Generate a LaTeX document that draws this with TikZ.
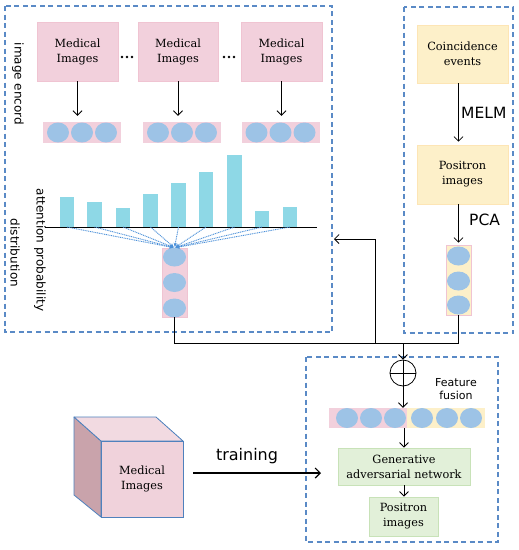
\documentclass[tikz,border=0pt]{standalone}
\usepackage{fontspec}
\setmainfont{DejaVu Serif}
\newfontfamily\labfont{DejaVu Sans}
\usetikzlibrary{arrows.meta}
\definecolor{pinkc}{HTML}{F2D0DC}
\definecolor{pinkb}{HTML}{F0C4D2}
\definecolor{yelc}{HTML}{FDF0C9}
\definecolor{grnc}{HTML}{E2F0D9}
\definecolor{grnb}{HTML}{C8E2B8}
\definecolor{circc}{HTML}{9DC3E6}
\definecolor{barc}{HTML}{8ED8E6}
\definecolor{dashc}{HTML}{5A8AC6}
\definecolor{dotc}{HTML}{4A90D9}
\definecolor{cubefront}{HTML}{F0D2DB}
\definecolor{cubetop}{HTML}{F2DAE1}
\definecolor{cubeleft}{HTML}{C9A3AB}
\definecolor{cubeline}{HTML}{4F81BD}
\begin{document}
\begin{tikzpicture}[x=1pt,y=-1pt,
  boxtext/.style={align=center, inner sep=0pt, font=\fontsize{11.3}{15}\selectfont, text=black},
  pbox/.style={boxtext, fill=pinkc, draw=pinkb, line width=0.6pt},
  ybox/.style={boxtext, fill=yelc, draw=yelc!90!orange, line width=0.6pt},
  gbox/.style={boxtext, fill=grnc, draw=grnb, line width=0.8pt},
  prow/.style={fill=pinkc, draw=none, inner sep=0pt},
  yrow/.style={fill=yelc, draw=none, inner sep=0pt},
  grp/.style={draw=dashc, line width=1.1pt, dash pattern=on 5pt off 3.5pt},
  arr/.style={-{Straight Barb[length=4.5pt,width=9pt]}, line width=0.8pt},
  conn/.style={line width=0.8pt},
  bar/.style={fill=barc, draw=none, inner sep=0pt, minimum width=14.5pt, anchor=south},
  dotarr/.style={dotc, dash pattern=on 1pt off 0.8pt, line width=0.9pt, -{Stealth[length=4pt,width=3.5pt]}},
  lab/.style={font=\labfont\fontsize{15.5}{18}\selectfont, inner sep=0pt},
  rlab/.style={font=\labfont\fontsize{12}{14}\selectfont, inner sep=0pt, rotate=-90}
]
\fill[white] (0,0) rectangle (519,550);
\useasboundingbox (0,0) rectangle (519,550);

% group frames
\draw[grp] (5,6) rectangle (332,332);
\draw[grp] (404,7) rectangle (513,333);
\draw[grp] (306,357) rectangle (498,542);

% medical image boxes
\node[pbox, minimum width=81pt, minimum height=59pt] (m1) at (77.5,51.5) {Medical\\Images};
\node[pbox, minimum width=80pt, minimum height=59pt] (m2) at (178,51.5) {Medical\\Images};
\node[pbox, minimum width=81pt, minimum height=59pt] (m3) at (281.5,51.5) {Medical\\Images};
\foreach \x in {122,127,132,224,229,234} \fill (\x,57) circle (1.3);

% encoded rows
\node[prow, minimum width=78pt, minimum height=21pt] (e1) at (82,132.5) {};
\node[prow, minimum width=78pt, minimum height=21pt] (e2) at (182,132.5) {};
\node[prow, minimum width=78pt, minimum height=21pt] (e3) at (280.5,132.5) {};
\foreach \c in {e1,e2,e3}
  \foreach \d in {-24,0,24}
    \fill[circc] ([xshift=\d pt]\c.center) ellipse [x radius=11, y radius=10];
\draw[arr, shorten >=6pt] (m1.south) -- (m1.south |- e1.north);
\draw[arr, shorten >=6pt] (m2.south) -- (m2.south |- e2.north);
\draw[arr, shorten >=6pt] (m3.south) -- (m3.south |- e3.north);

% rotated labels
\node[rlab] (t1) at (18,84) {image encord};
\node[rlab] (t2) at (40,250) {attention probability};
\node[rlab] (t3) at (15,253) {distribution};

% attention bars
\node[bar, minimum height=30pt] (b1) at (67,227) {};
\node[bar, minimum height=25pt] (b2) at (94.5,227) {};
\node[bar, minimum height=19pt] (b3) at (123,227) {};
\node[bar, minimum height=33pt] (b4) at (150.5,227) {};
\node[bar, minimum height=44pt] (b5) at (178.5,227) {};
\node[bar, minimum height=55pt] (b6) at (206,227) {};
\node[bar, minimum height=72pt] (b7) at (234.5,227) {};
\node[bar, minimum height=16pt] (b8) at (262,227) {};
\node[bar, minimum height=20pt] (b9) at (290,227) {};
\draw[line width=0.9pt] (45,227) -- (317,227);

% attention column
\node[prow, draw=pinkb, line width=0.4pt, minimum width=25pt, minimum height=69pt] (cl) at (174.5,282.5) {};
\foreach \d in {-25.5,0,25.5}
  \fill[circc] ([yshift=\d pt]cl.center) ellipse [x radius=11.5, y radius=9.5];
\foreach \i in {1,...,9}
  \draw[dotarr, shorten >=1pt] (b\i.south) -- (cl.north);

% right group
\node[ybox, minimum width=91pt, minimum height=58pt] (ce) at (462.5,54) {Coincidence\\events};
\node[ybox, minimum width=91pt, minimum height=59pt] (pi) at (462.5,174.5) {Positron\\images};
\node[yrow, draw=pinkb, line width=0.6pt, minimum width=25pt, minimum height=70pt] (cr) at (458.5,280) {};
\foreach \d in {-24,1,25}
  \fill[circc] ([yshift=-\d pt]cr.center) ellipse [x radius=11.5, y radius=9.5];
\draw[arr, shorten >=3pt] (ce.south -| cr.north) -- (pi.north -| cr.north);
\draw[arr, shorten >=2pt] (pi.south -| cr.north) -- (cr.north);
\node[lab, anchor=west] (melm) at (461,113) {MELM};
\node[lab, anchor=west] (pca) at (469,220) {PCA};

% junction
\coordinate (j) at (403,343);
\coordinate (fb) at (375,343);
\coordinate (fbend) at (334,239);
\node[circle, draw, line width=0.8pt, minimum size=26pt, inner sep=0pt] (op) at (403,373) {};
\draw[conn] (op.north) -- (op.south) (op.west) -- (op.east);
\draw[conn] (cl.south) |- (j);
\draw[conn] (cr.south) |- (j);
\draw[arr] (fb) |- (fbend);
\draw[arr] (j) -- (op.north);

% fusion
\node[align=center, inner sep=0pt, font=\labfont\fontsize{11}{12.5}\selectfont] (ff) at (456,389) {Feature\\fusion};
\node[prow, anchor=west, minimum width=78pt, minimum height=20pt] (fp) at (329,418) {};
\node[yrow, anchor=west, minimum width=78pt, minimum height=20pt] (fy) at (407,418) {};
\foreach \x in {347,371,395,422,447,471}
  \fill[circc] (\x,418) ellipse [x radius=11, y radius=10];
\draw[arr] (op.south) -- (op.south |- fp.north);

\node[gbox, minimum width=132pt, minimum height=37pt] (gan) at (404,466.5) {Generative\\adversarial network};
\node[gbox, minimum width=69pt, minimum height=39pt] (po) at (403.5,516.5) {Positron\\images};
\draw[arr] (gan.north |- fp.south) -- (gan.north);
\draw[arr] (gan.south) -- (gan.south |- po.north);

% cube
\filldraw[fill=cubeleft, draw=cubeline, line width=0.8pt, line join=round] (74,417) -- (101,441) -- (101,517) -- (74,495) -- cycle;
\filldraw[fill=cubetop, draw=cubeline, line width=0.8pt, line join=round] (74,417) -- (156,417) -- (183,441) -- (101,441) -- cycle;
\node[boxtext, fill=cubefront, draw=cubeline, line width=0.8pt, minimum width=82pt, minimum height=76pt] (cube) at (142,479) {Medical\\Images};

% training
\coordinate (ts) at (193,473);
\coordinate (te) at (321,473);
\draw[-{Straight Barb[length=5pt,width=10pt]}, line width=1.2pt] (ts) -- (te);
\node[inner sep=0pt, font=\labfont\fontsize{16}{18}\selectfont] (tr) at (247,456) {training};
\end{tikzpicture}
\end{document}
